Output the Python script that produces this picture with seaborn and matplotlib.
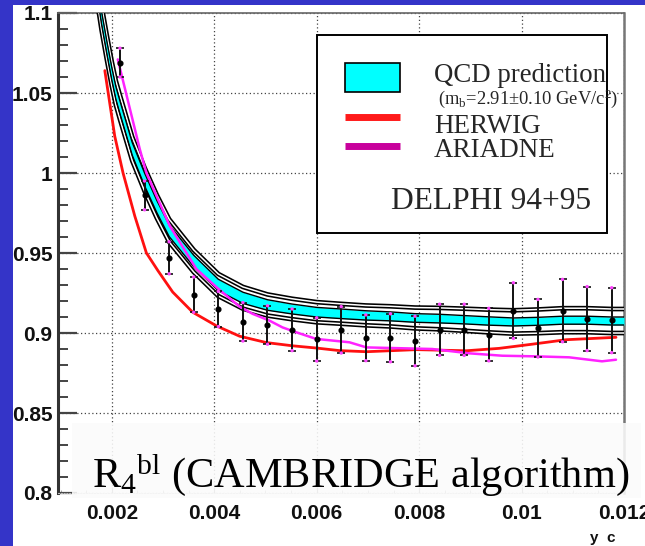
import matplotlib
matplotlib.use("Agg")
import matplotlib.pyplot as plt
from matplotlib.patches import Rectangle
from matplotlib.lines import Line2D
from matplotlib.ticker import MultipleLocator
import numpy as np
import seaborn as sns

# ---- DELPHI 94+95 measurement of R4 (b / light) versus y_c ----
yc_data = [0.00216, 0.00264, 0.00312, 0.00360, 0.00408, 0.00456, 0.00504,
           0.00552, 0.00600, 0.00648, 0.00696, 0.00744, 0.00792, 0.00840,
           0.00888, 0.00936, 0.00984, 0.01032, 0.01080, 0.01128, 0.01176]
r4_data = [1.069, 0.986, 0.947, 0.924, 0.915, 0.907, 0.905,
           0.902, 0.896, 0.902, 0.897, 0.897, 0.895, 0.902,
           0.902, 0.899, 0.914, 0.903, 0.914, 0.909, 0.908]
r4_err = [0.009, 0.009, 0.010, 0.011, 0.011, 0.012, 0.012,
          0.013, 0.0135, 0.0145, 0.0143, 0.015, 0.0155, 0.016,
          0.016, 0.0164, 0.0174, 0.018, 0.0195, 0.020, 0.0203]

# ---- QCD prediction (m_b = 2.91 +- 0.10 GeV/c^2) ----
qcd_x = [0.00170, 0.00180, 0.00190, 0.00200, 0.00208, 0.00216, 0.00240,
         0.00264, 0.00288, 0.00312, 0.00360, 0.00408, 0.00456, 0.00504,
         0.00552, 0.00600, 0.00648, 0.00696, 0.00744, 0.00792, 0.00840,
         0.00888, 0.00936, 0.00984, 0.01032, 0.01080, 0.01128, 0.01176,
         0.01200]
qcd_mid = [1.118, 1.097, 1.079, 1.062, 1.050, 1.041, 1.015,
           0.996, 0.979, 0.964, 0.945, 0.930, 0.922, 0.9175,
           0.915, 0.913, 0.912, 0.911, 0.9104, 0.9094, 0.909,
           0.9083, 0.9075, 0.9069, 0.9073, 0.908, 0.908, 0.9075,
           0.9075]
qcd_mass_err = [0.004, 0.004, 0.004, 0.004, 0.004, 0.004, 0.004,
                0.004, 0.0038, 0.0037, 0.0036, 0.0036, 0.0035, 0.0033,
                0.0031, 0.003, 0.003, 0.0029, 0.0028, 0.0027, 0.0027,
                0.0026, 0.0026, 0.0025, 0.0025, 0.0025, 0.0025, 0.0025,
                0.0025]
qcd_total_err = [0.0075, 0.0075, 0.0075, 0.0075, 0.0075, 0.0075, 0.0074,
                 0.0073, 0.0072, 0.0071, 0.0069, 0.0069, 0.0068, 0.0066,
                 0.0064, 0.0063, 0.0062, 0.0062, 0.0063, 0.0065, 0.0067,
                 0.0069, 0.0071, 0.0073, 0.0074, 0.0075, 0.0075, 0.0075,
                 0.0075]

# ---- Monte Carlo curves ----
herwig_x = [0.001864, 0.002058, 0.00222, 0.00245, 0.002676, 0.0029,
            0.003189, 0.003579, 0.004047, 0.004495, 0.005021, 0.005528,
            0.005996, 0.006444, 0.006971, 0.007945, 0.008920, 0.009563,
            0.010207, 0.010869, 0.011844]
herwig_y = [1.064, 1.023, 1.000, 0.973, 0.950, 0.939,
            0.9256, 0.913, 0.9044, 0.898, 0.894, 0.892,
            0.8906, 0.889, 0.8883, 0.8896, 0.8889, 0.8904,
            0.893, 0.8958, 0.8973]
ariadne_x = [0.002117, 0.002546, 0.002676, 0.003131, 0.003651, 0.004066,
             0.004495, 0.004748, 0.005080, 0.005333, 0.005606, 0.005990,
             0.006639, 0.006971, 0.008257, 0.008978, 0.009622, 0.010284,
             0.010928, 0.011571, 0.011844]
ariadne_y = [1.071, 1.015, 1.000, 0.967, 0.940, 0.928,
             0.9165, 0.912, 0.9077, 0.9035, 0.9004, 0.8963,
             0.8942, 0.891, 0.890, 0.8873, 0.8858, 0.8854,
             0.8848, 0.8823, 0.8833]

x_ticks = [0.002, 0.004, 0.006, 0.008, 0.010, 0.012]
x_tick_labels = ["0.002", "0.004", "0.006", "0.008", "0.01", "0.012"]
y_ticks = [0.80, 0.85, 0.90, 0.95, 1.00, 1.05, 1.10]
y_tick_labels = ["0.8", "0.85", "0.9", "0.95", "1", "1.05", "1.1"]

sns.set_theme(style="white")
plt.rcParams["font.family"] = ["Liberation Sans", "DejaVu Sans"]
plt.rcParams["mathtext.fontset"] = "custom"
plt.rcParams["mathtext.rm"] = "Liberation Serif"
plt.rcParams["mathtext.it"] = "Liberation Serif:italic"
plt.rcParams["mathtext.bf"] = "Liberation Serif:bold"

BLUE = "#3434c8"
W, H = 645, 546
fig = plt.figure(figsize=(W / 100, H / 100), dpi=100, facecolor="white")
ax = fig.add_axes([58 / W, 1 - 493 / H, 566 / W, 480 / H])
ax.set_facecolor("white")

qx = np.array(qcd_x)
qm = np.array(qcd_mid)
qi = np.array(qcd_mass_err)
qo = np.array(qcd_total_err)

# outer uncertainty envelope drawn as double lines
for edge in (qm + qo, qm - qo):
    sns.lineplot(x=qx, y=edge, ax=ax, color="black", lw=3.4, sort=False,
                 estimator=None, zorder=3)
    sns.lineplot(x=qx, y=edge, ax=ax, color="white", lw=1.1, sort=False,
                 estimator=None, zorder=3.1)

# inner band (b-mass variation)
ax.fill_between(qx, qm - qi, qm + qi, color="#00ffff", lw=0, zorder=3.2)
for edge in (qm + qi, qm - qi):
    sns.lineplot(x=qx, y=edge, ax=ax, color="black", lw=1.0, sort=False,
                 estimator=None, zorder=3.3)

sns.lineplot(x=herwig_x, y=herwig_y, ax=ax, color="#ff1010", lw=2.0,
             sort=False, estimator=None, zorder=4)
sns.lineplot(x=ariadne_x, y=ariadne_y, ax=ax, color="#ff22ff", lw=1.8,
             sort=False, estimator=None, zorder=4)

# data with error bars
ax.errorbar(yc_data, r4_data, yerr=r4_err, fmt="o", ms=3.4, color="black",
            ecolor="#111111", elinewidth=1.4, capsize=3, capthick=1.2,
            zorder=6)
ends_x = list(yc_data) * 2
ends_y = [v + e for v, e in zip(r4_data, r4_err)] + \
         [v - e for v, e in zip(r4_data, r4_err)]
sns.scatterplot(x=ends_x, y=ends_y, ax=ax, s=6, color="#ff44ff",
                edgecolor="none", zorder=6.5, legend=False)

# axes ranges, ticks, grid
ax.set_xlim(0.00095, 0.0120)
ax.set_ylim(0.8, 1.1)
ax.set_xticks(x_ticks)
ax.set_xticklabels(x_tick_labels)
ax.set_yticks(y_ticks)
ax.set_yticklabels(y_tick_labels)
ax.xaxis.set_minor_locator(MultipleLocator(0.0005))
ax.yaxis.set_minor_locator(MultipleLocator(0.01))
ax.tick_params(axis="y", which="major", direction="in", length=14, width=1.6,
               color="#444444", labelsize=15, pad=4, left=True, right=False)
ax.tick_params(axis="y", which="minor", direction="in", length=7, width=1.4,
               color="#444444", left=True, right=False)
ax.tick_params(axis="x", which="major", direction="in", length=4, width=0.8,
               color="#888888", labelsize=15, pad=8, bottom=True, top=False)
ax.tick_params(axis="x", which="minor", direction="in", length=2.5, width=0.6,
               color="#999999", bottom=True, top=False)
for lab in ax.get_xticklabels() + ax.get_yticklabels():
    lab.set_fontweight("bold")
    lab.set_color("#111111")

ax.grid(True, which="major", linestyle=(0, (1, 2)), color="#444444", lw=0.9)
ax.set_axisbelow(True)

ax.spines["left"].set_color("#333333")
ax.spines["left"].set_linewidth(2.2)
ax.spines["top"].set_color("#666666")
ax.spines["top"].set_linewidth(1.2)
ax.spines["right"].set_color("#777777")
ax.spines["right"].set_linewidth(1.8)
ax.spines["bottom"].set_color("#bbbbbb")
ax.spines["bottom"].set_linewidth(0.8)
ax.spines["bottom"].set_linestyle((0, (1, 1.5)))

ax.set_xlabel("y  c", fontsize=11, fontweight="bold", color="#111111",
              va="center")
ax.xaxis.set_label_coords(0.962, -0.094)

# legend box
serif = ["Liberation Serif", "DejaVu Serif"]
ax.add_patch(Rectangle((0.4576, 0.5417), 0.5124, 0.4123, transform=ax.transAxes,
                       facecolor="white", edgecolor="black", lw=1.4, zorder=8))
ax.add_patch(Rectangle((0.507, 0.8354), 0.097, 0.0604, transform=ax.transAxes,
                       facecolor="#00ffff", edgecolor="black", lw=1.2, zorder=9))
ax.add_line(Line2D([0.507, 0.604], [0.783, 0.783], transform=ax.transAxes,
                   color="#ff1a1a", lw=5, solid_capstyle="butt", zorder=9))
ax.add_line(Line2D([0.507, 0.604], [0.723, 0.723], transform=ax.transAxes,
                   color="#c8009c", lw=5, solid_capstyle="butt", zorder=9))
ax.text(0.664, 0.856, "QCD prediction", transform=ax.transAxes, fontsize=19.3,
        family=serif, va="baseline", ha="left", zorder=10)
ax.text(0.671, 0.810, r"(m$_{\rm b}$=2.91±0.10 GeV/c$^{\rm 2}$)",
        transform=ax.transAxes, fontsize=13.3, family=serif, va="baseline",
        ha="left", zorder=10)
ax.text(0.664, 0.750, "HERWIG", transform=ax.transAxes, fontsize=19.5,
        family=serif, va="baseline", ha="left", zorder=10)
ax.text(0.664, 0.700, "ARIADNE", transform=ax.transAxes, fontsize=19.5,
        family=serif, va="baseline", ha="left", zorder=10)
ax.text(0.588, 0.5917, "DELPHI 94+95", transform=ax.transAxes, fontsize=22.7,
        family=serif, va="baseline", ha="left", zorder=10)

# title box at the bottom
ax.add_patch(Rectangle((0.0247, -0.01), 1.005, 0.156, transform=ax.transAxes,
                       facecolor="#fbfbfb", edgecolor="none", alpha=0.88,
                       zorder=8, clip_on=False))
ax.text(0.060, 0.0125, r"R$_{\rm 4}$$^{\rm bl}$ (CAMBRIDGE algorithm)",
        transform=ax.transAxes, fontsize=30.5, family=serif, va="baseline",
        ha="left", color="black", zorder=10, clip_on=False)

# blue slide border
fig.add_artist(Rectangle((0, 1 - 5 / H), 1, 5 / H, transform=fig.transFigure,
                         facecolor=BLUE, edgecolor="none", zorder=20))
fig.add_artist(Rectangle((0, 0), 13 / W, 1, transform=fig.transFigure,
                         facecolor=BLUE, edgecolor="none", zorder=20))

fig.savefig("out.png", dpi=100, facecolor="white")
